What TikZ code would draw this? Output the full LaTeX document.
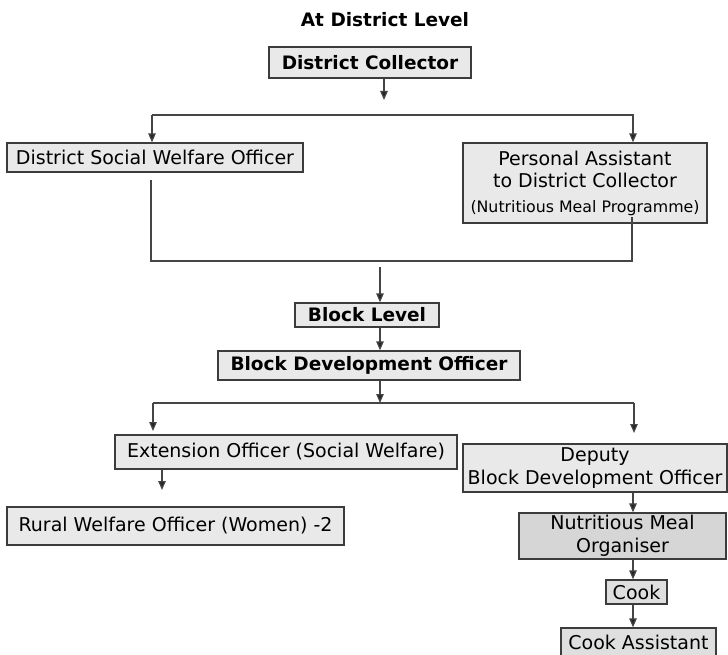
\documentclass[tikz,border=0pt]{standalone}
\usepackage{fontspec}
\setmainfont{DejaVu Sans}
\usetikzlibrary{arrows.meta}

\definecolor{boxfill}{HTML}{E9E9E9}
\definecolor{darkfill}{HTML}{D6D6D6}
\definecolor{midfill}{HTML}{DFDFDF}
\definecolor{boxline}{HTML}{3C3C3C}
\definecolor{wireline}{HTML}{454545}

\begin{document}
\begin{tikzpicture}[x=1pt,y=-1pt,
  box/.style={draw=boxline, line width=1.3pt, fill=boxfill, inner sep=0pt,
              align=center, font=\fontsize{19}{22.5}\selectfont},
  boldtext/.style={font=\fontsize{18.5}{22.5}\selectfont\bfseries},
  wire/.style={draw=wireline, line width=1.2pt},
  arr/.style={wire, -{Triangle[length=9pt,width=7.5pt,fill=black!85]}},
  heading/.style={font=\fontsize{18.5}{22}\selectfont\bfseries}
]
\useasboundingbox (0,0) rectangle (728,655);

% ---- district level ----
\node[heading] (title) at (385,20) {At District Level};

\node[box, boldtext, minimum width=202pt, minimum height=31pt] (DC) at (370,62.5)
  {District Collector};

\node[box, minimum width=296pt, minimum height=29pt] (DSWO) at (155,157.5)
  {District Social Welfare Officer};

\node[box, minimum width=244pt, minimum height=80pt] (PA) at (585,183)
  {Personal Assistant\\ to District Collector\\[2pt]
   {\fontsize{15.8}{19}\selectfont (Nutritious Meal Programme)}};

% ---- block level ----
\node[box, boldtext, minimum width=144pt, minimum height=24pt] (BL) at (367,315)
  {Block Level};

\node[box, boldtext, minimum width=302pt, minimum height=29pt] (BDO) at (369,365.5)
  {Block Development Officer};

\node[box, minimum width=342pt, minimum height=34pt] (EO) at (286,452)
  {Extension Officer (Social Welfare)};

\node[box, minimum width=337pt, minimum height=38pt] (RWO) at (175.5,526)
  {Rural Welfare Officer (Women) -2};

\node[box, minimum width=264pt, minimum height=48pt] (DBDO) at (595,468)
  {Deputy\\ Block Development Officer};

\node[box, fill=darkfill, minimum width=207pt, minimum height=46pt] (NMO) at (622.5,536)
  {Nutritious Meal\\ Organiser};

\node[box, fill=midfill, minimum width=61pt, minimum height=24pt] (COOK) at (636.5,592)
  {Cook};

\node[box, fill=midfill, minimum width=155pt, minimum height=29pt] (CA) at (638.5,642.5)
  {Cook Assistant};

% ---- junction points ----
\coordinate (dcTip)  at (384,100);
\coordinate (busAL)  at (152,115);
\coordinate (busAR)  at (633,115);
\coordinate (dswoOut) at (151,180);
\coordinate (paOut)  at (632,217);
\coordinate (busBL)  at (151,261);
\coordinate (busBR)  at (632,261);
\coordinate (blkIn)  at (380,267);
\coordinate (busCM)  at (380,403);
\coordinate (busCL)  at (153,403);
\coordinate (busCR)  at (634,403);
\coordinate (eoTip)  at (153,431);
\coordinate (dbTip)  at (634,433);
\coordinate (rwoTip) at (162,490);
\coordinate (chain)  at (633,0);

% ---- connectors ----
\draw[arr] (DC.south -| dcTip) -- (dcTip);
\draw[arr] (busAL) -- (busAL |- DSWO.north);
\draw[arr] (busAL) -- (busAR) -- (busAR |- PA.north);

\draw[wire] (dswoOut) -- (busBL) -- (busBR) -- (paOut);

\draw[arr] (blkIn) -- (blkIn |- BL.north);
\draw[arr] (BL.south -| blkIn) -- (BDO.north -| blkIn);
\draw[arr] (BDO.south -| blkIn) -- (busCM);

\draw[wire] (busCL) -- (busCR);
\draw[arr] (busCL) -- (eoTip);
\draw[arr] (busCR) -- (dbTip);

\draw[arr] (EO.south -| rwoTip) -- (rwoTip);

\draw[arr] (DBDO.south -| chain) -- (NMO.north -| chain);
\draw[arr] (NMO.south -| chain) -- (COOK.north -| chain);
\draw[arr] (COOK.south -| chain) -- (CA.north -| chain);
\end{tikzpicture}
\end{document}
